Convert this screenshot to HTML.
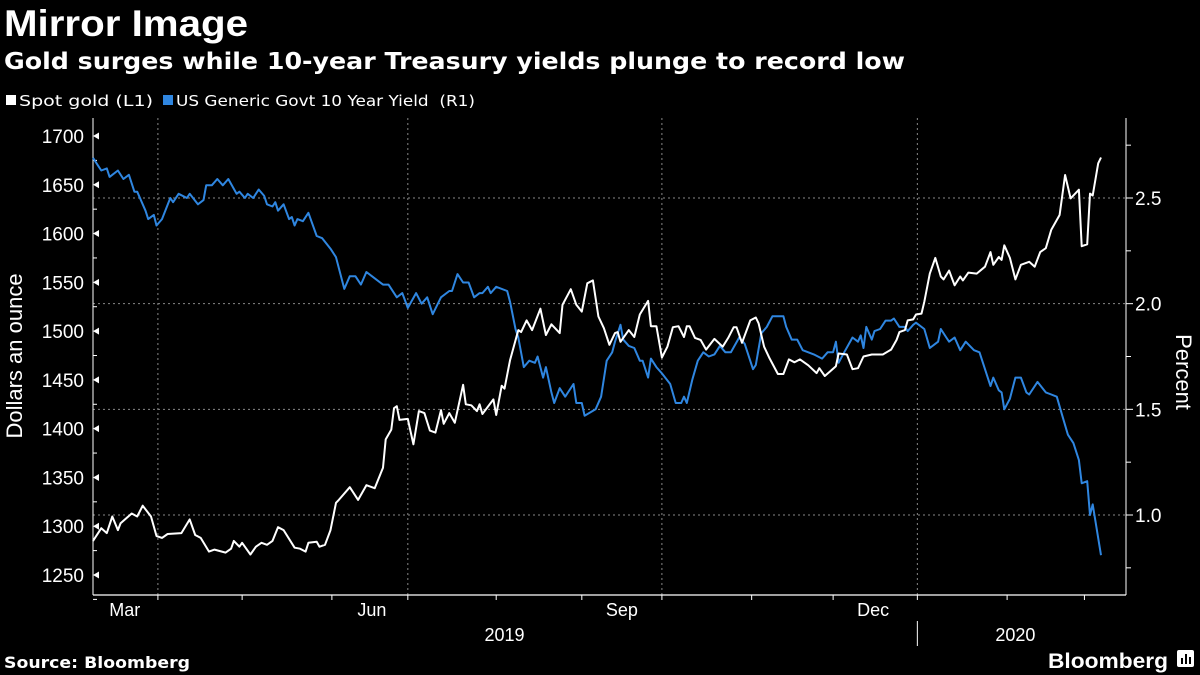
<!DOCTYPE html>
<html><head><meta charset="utf-8"><style>
html,body{margin:0;padding:0;background:#000;}
svg{display:block;font-family:"Liberation Sans",sans-serif;}
</style></head><body>
<svg id="chart" width="1200" height="675" viewBox="0 0 1200 675">
<rect width="1200" height="675" fill="#000"/>
<text x="4" y="36" fill="#fff" font-size="37" font-weight="bold" textLength="244" lengthAdjust="spacingAndGlyphs">Mirror Image</text>
<text x="4" y="69" fill="#fff" font-size="23" font-weight="bold" font-family="DejaVu Sans, sans-serif" textLength="901" lengthAdjust="spacingAndGlyphs">Gold surges while 10-year Treasury yields plunge to record low</text>
<g>
<g><rect x="6" y="95" width="10" height="10" fill="#fff"/><text x="19" y="106" fill="#fff" font-size="15" font-family="DejaVu Sans, sans-serif" textLength="134" lengthAdjust="spacingAndGlyphs">Spot gold (L1)</text></g>
<g><rect x="163" y="95" width="10" height="10" fill="#2f86e0"/><text x="176" y="106" fill="#fff" font-size="15" font-family="DejaVu Sans, sans-serif" textLength="299" lengthAdjust="spacingAndGlyphs" xml:space="preserve">US Generic Govt 10 Year Yield  (R1)</text></g>
</g>
<g id="grid"></g>
<g id="axes"></g>
<g id="series"></g>
<text transform="translate(22,356) rotate(-90)" text-anchor="middle" fill="#fff" font-size="22">Dollars an ounce</text>
<text transform="translate(1176,372) rotate(90)" text-anchor="middle" fill="#fff" font-size="22">Percent</text>
<text x="4" y="668" fill="#fff" font-size="16" font-weight="bold" font-family="DejaVu Sans, sans-serif" textLength="186" lengthAdjust="spacingAndGlyphs">Source: Bloomberg</text>
<text x="1048" y="668" fill="#fff" font-size="21" font-weight="bold" textLength="120" lengthAdjust="spacingAndGlyphs">Bloomberg</text>
<g><rect x="1177" y="650" width="17" height="17" rx="2" fill="#fff"/><rect x="1181" y="658" width="2" height="6" fill="#000"/><rect x="1185" y="654" width="2" height="10" fill="#000"/><rect x="1189" y="657" width="2" height="7" fill="#000"/></g>
</svg>
<script>
const goldDays=[0,3,5,7,9,10,14,16,18,21,23,25,27,32,35,37,39,42,44,48,50,51,53,54,57,59,61,63,65,67,69,73,75,77,78,81,82,84,86,88,89,93,96,99,102,105,106,108,109,110,111,114,116,118,120,122,124,126,127,129,131,134,135,137,139,140,141,145,146,148,149,151,154,155,157,159,162,164,166,169,170,173,175,177,179,181,183,185,187,189,190,191,194,196,198,201,202,204,206,208,210,212,214,215,216,218,220,222,225,228,230,232,233,235,238,240,241,243,245,248,250,252,254,256,259,262,263,265,267,269,270,273,275,277,279,282,286,289,291,292,294,295,297,298,300,301,303,305,307,308,310,312,314,315,317,320,323,325,326,328,329,330,332,334,336,339,341,343,345,347,350,352,354,357,358,360,361,362,364,365];
const goldValues=[1285,1298,1293,1310,1296,1303,1313,1310,1321,1310,1290,1288,1292,1293,1307,1291,1288,1274,1276,1273,1277,1285,1279,1283,1271,1279,1283,1281,1285,1299,1296,1278,1277,1274,1283,1284,1279,1281,1296,1324,1327,1340,1327,1342,1339,1360,1389,1399,1421,1423,1409,1410,1384,1418,1416,1398,1396,1419,1405,1416,1406,1445,1425,1424,1418,1425,1415,1430,1414,1444,1441,1470,1501,1499,1511,1501,1523,1496,1507,1498,1527,1543,1527,1520,1549,1552,1515,1503,1486,1498,1499,1489,1501,1494,1517,1531,1505,1505,1473,1484,1504,1505,1494,1505,1505,1493,1491,1481,1492,1484,1493,1504,1504,1488,1511,1514,1508,1484,1472,1456,1456,1471,1468,1471,1465,1457,1462,1454,1459,1464,1477,1476,1461,1462,1474,1476,1476,1481,1491,1499,1501,1511,1512,1517,1518,1530,1559,1575,1556,1553,1562,1547,1556,1552,1560,1559,1566,1581,1568,1576,1573,1588,1575,1553,1568,1571,1566,1581,1585,1604,1619,1660,1636,1645,1587,1589,1641,1639,1672,1678];
const yieldDays=[0,2,3,5,6,9,11,13,15,16,19,20,22,23,25,28,29,31,34,35,38,40,41,43,45,47,49,52,53,55,56,58,60,62,63,65,66,67,69,71,72,73,74,76,78,81,83,86,88,90,91,93,95,97,99,101,105,107,110,112,114,117,119,121,123,126,129,130,132,134,136,138,140,141,143,144,146,150,151,153,154,156,158,160,161,163,164,166,167,169,171,174,175,177,178,182,184,186,188,189,191,192,194,196,198,199,201,202,204,206,209,211,213,214,215,217,219,221,223,225,227,229,231,234,236,239,240,242,244,246,248,250,251,253,255,257,259,261,264,266,268,269,270,272,275,277,278,279,280,282,283,285,287,289,290,292,294,295,297,298,301,303,305,306,307,309,310,312,314,316,319,321,323,325,326,328,329,330,332,334,336,338,339,342,345,347,349,351,353,355,357,358,360,361,362,365];
const yieldValues=[2.69,2.65,2.63,2.64,2.60,2.63,2.59,2.61,2.53,2.53,2.44,2.40,2.42,2.37,2.40,2.50,2.48,2.52,2.50,2.52,2.47,2.49,2.56,2.56,2.59,2.56,2.59,2.52,2.53,2.50,2.52,2.50,2.54,2.51,2.47,2.46,2.48,2.44,2.47,2.40,2.41,2.37,2.40,2.39,2.43,2.32,2.31,2.26,2.22,2.12,2.07,2.13,2.13,2.09,2.15,2.13,2.09,2.09,2.03,2.05,1.98,2.05,2.00,2.03,1.95,2.03,2.06,2.06,2.14,2.10,2.10,2.03,2.05,2.05,2.08,2.05,2.08,2.06,2.01,1.88,1.84,1.70,1.73,1.72,1.75,1.65,1.70,1.58,1.53,1.60,1.56,1.62,1.53,1.53,1.47,1.50,1.56,1.73,1.77,1.82,1.90,1.83,1.80,1.79,1.73,1.73,1.65,1.74,1.70,1.67,1.62,1.53,1.53,1.56,1.53,1.64,1.73,1.77,1.75,1.76,1.80,1.77,1.77,1.84,1.81,1.69,1.71,1.86,1.89,1.94,1.94,1.94,1.89,1.83,1.83,1.78,1.77,1.76,1.74,1.77,1.77,1.82,1.72,1.77,1.84,1.82,1.85,1.79,1.89,1.83,1.87,1.88,1.92,1.92,1.93,1.89,1.89,1.87,1.90,1.91,1.88,1.79,1.81,1.82,1.88,1.84,1.82,1.84,1.78,1.82,1.78,1.77,1.69,1.61,1.65,1.59,1.58,1.50,1.55,1.65,1.65,1.58,1.57,1.63,1.58,1.57,1.56,1.47,1.38,1.34,1.26,1.15,1.16,1.00,1.05,0.81];
const leftTicks=[1250,1300,1350,1400,1450,1500,1550,1600,1650,1700];
const rightTicks=[1.0,1.5,2.0,2.5];
const rightTickLabels=["1.0","1.5","2.0","2.5"];
const monthLabels=["Mar","Jun","Sep","Dec"];
const monthLabelDays=[11.5,101,191.5,282.5];
const tickDays=[23.5,54,86.5,114,146,177,206,238.5,268,298.5,331,359];
const gridDays=[23.5,114,206,298.5];
const yearLabels=["2019","2020"];
const yearLabelDays=[149,334];
const yearSepDays=[298.5];

const NS="http://www.w3.org/2000/svg";
const X0=93,X1=1101,DMAX=365;
function xs(d){return X0+d*(X1-X0)/DMAX;}
function yl(v){return 136+(1700-v)*(575-136)/450;}
function yr(v){return 198+(2.5-v)*(515-198)/1.5;}
function mk(tag,attrs,parent){const e=document.createElementNS(NS,tag);for(const k in attrs)e.setAttribute(k,attrs[k]);parent.appendChild(e);return e;}
const grid=document.getElementById('grid'),axes=document.getElementById('axes'),series=document.getElementById('series');

rightTicks.forEach((v,i)=>{
  const l=mk('line',{x1:X0,x2:1126,y1:yr(v),y2:yr(v),stroke:'#888','stroke-width':1,'stroke-dasharray':'2,3'},grid);
  
  
  const t=mk('line',{x1:1126,x2:1133,y1:yr(v),y2:yr(v),stroke:'#fff'},axes);
  
  
  const tx=mk('text',{x:1135,y:yr(v)+7,fill:'#fff','font-size':19},axes);
  tx.textContent=rightTickLabels[i];
  
  
});
for(let v=0.75;v<=2.76;v+=0.25){
  if(Math.abs((v*2)-Math.round(v*2))<0.01)continue;
  const t=mk('line',{x1:1126,x2:1131,y1:yr(v),y2:yr(v),stroke:'#fff'},axes);
  
  
}
gridDays.forEach(d=>{
  const l=mk('line',{x1:xs(d),x2:xs(d),y1:118,y2:595,stroke:'#888','stroke-width':1,'stroke-dasharray':'2,3'},grid);
  
  
});
leftTicks.forEach(v=>{
  const p=mk('path',{d:`M${X0} ${yl(v)} l6 -3.5 v7 z`,fill:'#fff'},axes);
  
  
  const tx=mk('text',{x:84,y:yl(v)+7,fill:'#fff','font-size':19,'text-anchor':'end'},axes);
  tx.textContent=String(v);
  
  
  const m=mk('line',{x1:X0,x2:X0+4,y1:yl(v-25),y2:yl(v-25),stroke:'#fff'},axes);
  
  
});
const la=mk('line',{x1:X0,x2:X0,y1:118,y2:595,stroke:'#fff','stroke-width':1},axes);


const ra=mk('line',{x1:1126,x2:1126,y1:118,y2:595,stroke:'#fff','stroke-width':1},axes);


const ba=mk('line',{x1:X0,x2:1126,y1:595,y2:595,stroke:'#fff','stroke-width':1.2},axes);


tickDays.forEach(d=>{
  const t=mk('line',{x1:xs(d),x2:xs(d),y1:595,y2:600,stroke:'#fff'},axes);
  
  
});
monthLabels.forEach((m,i)=>{
  const t=mk('text',{x:xs(monthLabelDays[i]),y:616,fill:'#fff','font-size':18,'text-anchor':'middle'},axes);
  t.textContent=m;
  
  
});
yearLabels.forEach((y,i)=>{
  const t=mk('text',{x:xs(yearLabelDays[i]),y:641,fill:'#fff','font-size':18,'text-anchor':'middle'},axes);
  t.textContent=y;
  
  
});
yearSepDays.forEach(d=>{
  const s=mk('line',{x1:xs(d),x2:xs(d),y1:621,y2:646,stroke:'#fff'},axes);
  
  
});
const yp=mk('polyline',{points:yieldDays.map((d,i)=>xs(d).toFixed(1)+','+yr(yieldValues[i]).toFixed(1)).join(' '),fill:'none',stroke:'#2f86e0','stroke-width':2,'stroke-linejoin':'round'},series);


const gp=mk('polyline',{points:goldDays.map((d,i)=>xs(d).toFixed(1)+','+yl(goldValues[i]).toFixed(1)).join(' '),fill:'none',stroke:'#fff','stroke-width':2,'stroke-linejoin':'round'},series);


</script>
</body></html>
